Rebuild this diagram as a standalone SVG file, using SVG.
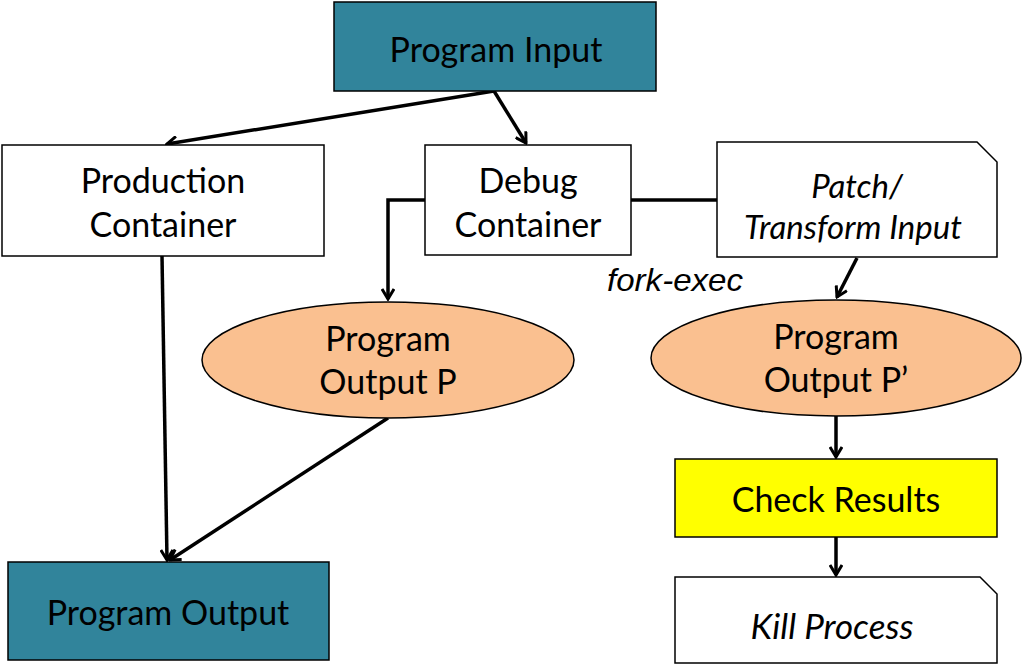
<svg xmlns="http://www.w3.org/2000/svg" width="1022" height="665" viewBox="0 0 1022 665">
<defs>
<style>
.box{stroke:#000;stroke-width:1.5}
.teal{fill:#31849B}
.white{fill:#fff}
.orange{fill:#FAC090}
.yellow{fill:#FFFF00}
.t{font-family:Lato,"Open Sans",sans-serif;font-size:34px;fill:#000;text-anchor:middle}
.i{font-style:italic;font-size:33px}
.fe{font-family:"Liberation Sans",Arial,sans-serif;font-style:italic;font-size:32px;fill:#000}
.c{fill:none;stroke:#000;stroke-width:3.5}
</style>
<marker id="a" markerWidth="14" markerHeight="14" refX="12" refY="7" orient="auto" markerUnits="userSpaceOnUse">
<path d="M2,1 L12,7 L2,13" fill="none" stroke="#000" stroke-width="3"/>
</marker>
</defs>
<g id="connectors">
<path class="c" d="M494,91 L167,144" marker-end="url(#a)"/>
<path class="c" d="M494,91 L526,143" marker-end="url(#a)"/>
<path class="c" d="M425,200 L388,200 L388,299" marker-end="url(#a)"/>
<path class="c" d="M631,200 L717,200"/>
<path class="c" d="M857,258 L837,297" marker-end="url(#a)"/>
<path class="c" d="M162,256 L167,560" marker-end="url(#a)"/>
<path class="c" d="M388,418 L170,560" marker-end="url(#a)"/>
<path class="c" d="M836,416 L836,457" marker-end="url(#a)"/>
<path class="c" d="M836,537 L836,575" marker-end="url(#a)"/>
</g>
<g id="program-input">
<rect class="box teal" x="334" y="2" width="322" height="89"/>
<text class="t" x="496" y="62">Program Input</text>
</g>
<g id="production-container">
<rect class="box white" x="2" y="145" width="322" height="111"/>
<text class="t" x="163" y="193">Production</text>
<text class="t" x="163" y="237">Container</text>
</g>
<g id="debug-container">
<rect class="box white" x="425" y="145" width="206" height="110"/>
<text class="t" x="528" y="193">Debug</text>
<text class="t" x="528" y="237">Container</text>
</g>
<g id="patch-transform">
<path class="box white" d="M717,142 L977,142 L997,162 L997,257 L717,257 Z"/>
<text class="t i" x="857" y="198">Patch/</text>
<text class="t i" x="853" y="239">Transform Input</text>
</g>
<g id="fork-exec">
<text class="fe" x="607" y="291" textLength="136" lengthAdjust="spacingAndGlyphs">fork-exec</text>
</g>
<g id="output-p">
<ellipse class="box orange" cx="388" cy="360" rx="186" ry="58"/>
<text class="t" x="388" y="351">Program</text>
<text class="t" x="388" y="394">Output P</text>
</g>
<g id="output-p-prime">
<ellipse class="box orange" cx="836" cy="358" rx="185" ry="58"/>
<text class="t" x="836" y="349">Program</text>
<text class="t" x="836" y="392">Output P’</text>
</g>
<g id="check-results">
<rect class="box yellow" x="675" y="459" width="322" height="78"/>
<text class="t" x="836" y="512">Check Results</text>
</g>
<g id="kill-process">
<path class="box white" d="M675,577 L980,577 L997,594 L997,663 L675,663 Z"/>
<text class="t i" x="832" y="639" style="font-size:35px">Kill Process</text>
</g>
<g id="program-output">
<rect class="box teal" x="8" y="562" width="321" height="98"/>
<text class="t" x="168" y="625">Program Output</text>
</g>
</svg>
